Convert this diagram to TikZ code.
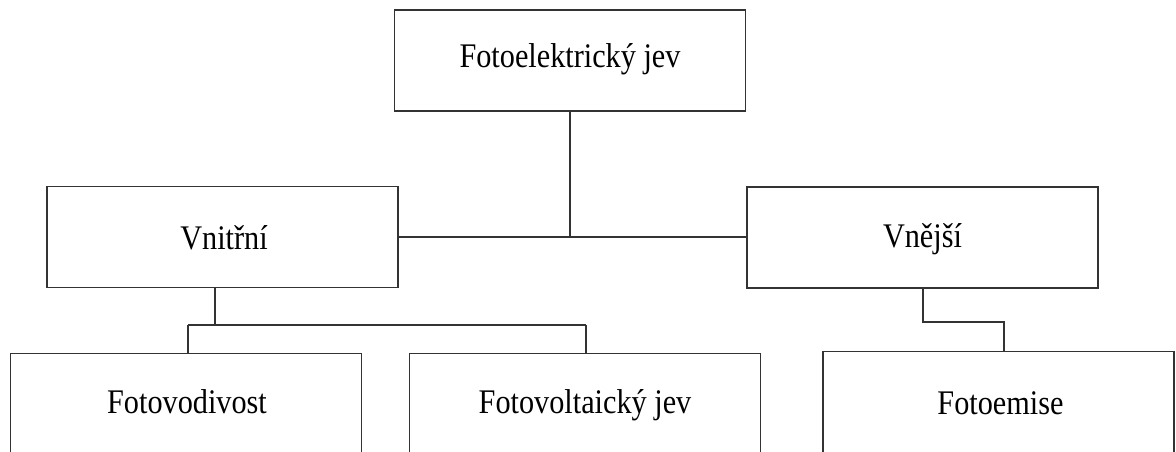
\documentclass[tikz,border=0pt]{standalone}
\usepackage{fontspec}
\setmainfont{Liberation Serif}[FakeStretch=0.877]
\usetikzlibrary{calc}
\begin{document}
\begin{tikzpicture}[x=1pt,y=-1pt,
  box/.style={draw=black!80,line width=1.2pt,fill=white,rectangle,inner sep=0pt,
              minimum width=351pt,minimum height=101pt},
  tallbox/.style={box,minimum height=130pt,anchor=north},
  lbl/.style={anchor=base,inner sep=0pt,font=\fontsize{34.5}{40}\selectfont},
  link/.style={draw=black!80,line width=1.2pt}]
\useasboundingbox (0,0) rectangle (1176,452);
\clip (0,0) rectangle (1176,452);

% level 1
\node[box] (jev) at (570,60.5) {};
\node[lbl] (jevT) at (570,67) {Fotoelektrický jev};

% level 2
\node[box] (vnitrni) at (222.5,237) {};
\node[lbl] (vnitrniT) at (224,249) {Vnitřní};
\node[box] (vnejsi) at (922.5,237.5) {};
\node[lbl] (vnejsiT) at (922.5,247) {Vnější};

% level 3 (boxes run past the lower edge)
\node[tallbox] (vodivost) at (186,352.5) {};
\node[lbl] (vodivostT) at (187,413.5) {Fotovodivost};
\node[tallbox] (voltaicky) at (585,353) {};
\node[lbl] (voltaickyT) at (585,413.5) {Fotovoltaický jev};
\node[tallbox] (emise) at (998.5,351) {};
\node[lbl] (emiseT) at (1000.5,414) {Fotoemise};

% junction points
\coordinate (vnDown) at (215,287.5);
\coordinate (vnBar) at (215,325);
\coordinate (barL) at (188,325);
\coordinate (barR) at (586,325);
\coordinate (exDown) at (923,288);
\coordinate (exBar) at (923,322);
\coordinate (exTurn) at (1004,322);

% connectors
\draw[link] (vnitrni.east) -- (vnitrni.east -| vnejsi.west);
\draw[link] (jev.south) -- (jev.south |- vnitrni.east);
\draw[link] (vnDown) -- (vnBar);
\draw[link] (barL) -- (barR);
\draw[link] (barL) -- (barL |- vodivost.north);
\draw[link] (barR) -- (barR |- voltaicky.north);
\draw[link] (exDown) -- (exBar) -- (exTurn) -- (exTurn |- emise.north);
\end{tikzpicture}
\end{document}
